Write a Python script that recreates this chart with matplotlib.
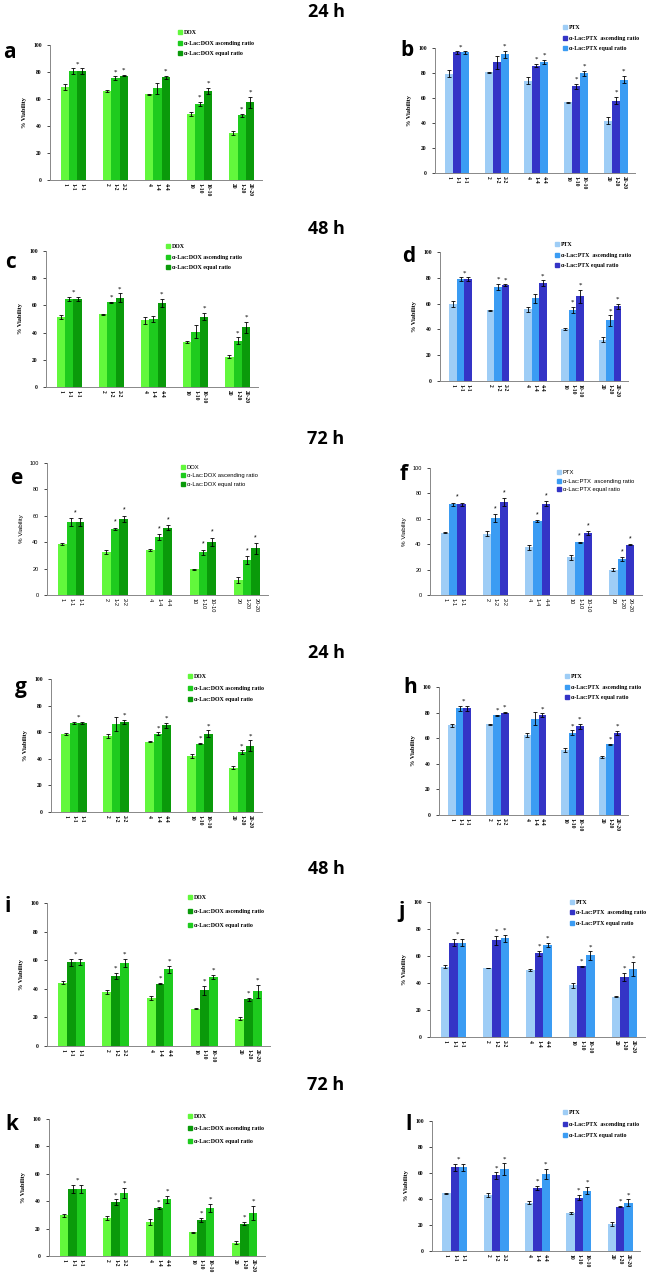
import numpy as np
import matplotlib
matplotlib.use("Agg")
from matplotlib import pyplot as plt
from matplotlib.patches import Patch

# 図の大きさ (px)
W, H = 647, 1275

# x 軸ラベル (各バーの下)
XLABELS = ["1", "1-1", "1-1", "2", "1-2", "2-2", "4", "1-4", "4-4",
           "10", "1-10", "10-10", "20", "1-20", "20-20"]

# 凡例
DOX_NAMES = ["DOX", "α-Lac:DOX ascending ratio", "α-Lac:DOX equal ratio"]
PTX_NAMES = ["PTX", "α-Lac:PTX  ascending ratio", "α-Lac:PTX equal ratio"]

# 色
G_LIGHT, G_MID, G_DARK = "#62f83c", "#1ecb1e", "#0a9a0a"
B_LIGHT, B_MID, B_DARK = "#9ecdf6", "#3b9cf3", "#3434c6"

# ---- データ (単剤, 昇順比, 等比, 誤差) ----
# スター: a=ascending, e=equal, m=両方の間
a_drug = [69.0, 66.0, 63.5, 49.0, 35.0]
a_asc = [80.7, 75.3, 68.0, 56.3, 48.0]
a_eq = [80.7, 77.3, 76.0, 66.0, 57.5]
a_err = [[2, 1, 0.3, 1.5, 1.5], [2, 1.5, 4, 1.5, 1], [2, 0.5, 1, 2.5, 4]]
a_stars = ["m", "ae", "e", "ae", "ae"]

b_drug = [79.5, 80.5, 74.0, 56.5, 42.0]
b_asc = [96.5, 88.5, 86.0, 69.3, 58.0]
b_eq = [96.5, 95.0, 89.0, 80.0, 74.7]
b_err = [[3, 0.3, 2.5, 0.5, 3], [1, 5, 1.5, 2, 3], [1, 3, 1.5, 2, 3]]
b_stars = ["m", "e", "ae", "ae", "ae"]

c_drug = [51.4, 53.6, 49.0, 33.0, 22.4]
c_asc = [64.9, 62.2, 50.0, 40.8, 34.0]
c_eq = [64.9, 65.8, 62.0, 51.8, 44.0]
c_err = [[1.5, 0.3, 2.5, 1, 1], [1.5, 0.5, 2.5, 5, 2.5], [1.5, 3, 3, 2.5, 4]]
c_stars = ["m", "ae", "e", "e", "ae"]

d_drug = [59.6, 54.7, 55.7, 40.4, 31.9]
d_asc = [79.0, 73.0, 64.2, 55.2, 47.0]
d_eq = [79.0, 74.4, 76.0, 65.8, 57.8]
d_err = [[2.5, 0.3, 2, 1, 2], [1.5, 2.5, 3.5, 2.5, 4], [1.5, 0.5, 2, 5, 2]]
d_stars = ["m", "ae", "e", "ae", "ae"]

e_drug = [38.7, 32.4, 34.0, 19.5, 11.4]
e_asc = [55.2, 49.9, 44.0, 32.4, 26.3]
e_eq = [55.2, 57.7, 51.0, 40.3, 35.4]
e_err = [[0.5, 1.5, 1, 0.3, 2], [3, 1, 2, 2, 3], [3, 2.5, 2, 3, 4]]
e_stars = ["m", "ae", "ae", "ae", "ae"]

f_drug = [49.0, 48.2, 37.6, 29.7, 20.0]
f_asc = [71.3, 60.8, 58.2, 41.6, 28.2]
f_eq = [71.3, 73.4, 71.8, 49.0, 39.7]
f_err = [[0.5, 2, 2, 2, 1], [1.5, 3, 0.5, 0.3, 1.5], [1.5, 3, 2, 1.5, 0.3]]
f_stars = ["m", "ae", "ae", "ae", "ae"]

g_drug = [58.6, 57.1, 52.9, 42.4, 33.3]
g_asc = [66.9, 66.2, 58.9, 51.4, 44.9]
g_eq = [66.9, 67.7, 65.2, 58.9, 49.9]
g_err = [[1, 1.5, 0.3, 1.5, 1], [1, 5, 1, 0.5, 1.5], [1, 1.5, 2, 2.5, 4]]
g_stars = ["m", "e", "ae", "ae", "ae"]

h_drug = [70.1, 70.9, 62.6, 50.9, 45.2]
h_asc = [83.4, 77.9, 75.3, 64.2, 55.3]
h_eq = [83.4, 80.0, 77.9, 69.4, 64.2]
h_err = [[1, 0.3, 1.5, 1.5, 1], [2, 0.5, 5, 2, 0.5], [2, 0.5, 1.5, 2, 1.5]]
h_stars = ["m", "ae", "e", "ae", "ae"]

i_drug = [44.3, 37.7, 33.7, 26.0, 19.0]
i_asc = [58.5, 49.2, 43.6, 38.9, 32.8]
i_eq = [58.5, 58.1, 53.6, 48.2, 38.4]
i_err = [[1, 1.5, 1.5, 0.3, 1], [2.5, 2, 0.5, 3, 1], [2, 3, 2.5, 1.5, 4.5]]
i_stars = ["m", "ae", "ae", "ae", "ae"]

j_drug = [52.1, 51.1, 49.6, 38.3, 30.0]
j_asc = [70.0, 71.5, 61.9, 52.3, 44.7]
j_eq = [70.0, 73.0, 68.0, 60.4, 50.4]
j_err = [[1, 0.3, 1, 2, 0.3], [2.5, 3.5, 2, 0.5, 3], [2.5, 2.5, 1.5, 3, 5]]
j_stars = ["m", "ae", "ae", "ae", "ae"]

k_drug = [29.6, 27.9, 24.7, 17.4, 9.8]
k_asc = [48.9, 39.4, 35.0, 26.4, 23.7]
k_eq = [48.9, 46.2, 41.3, 35.2, 31.5]
k_err = [[1, 1.5, 2, 0.3, 1], [3, 2, 1, 1.5, 1], [3, 3.5, 2.5, 3, 5]]
k_stars = ["m", "ae", "ae", "ae", "ae"]

l_drug = [44.5, 42.9, 37.3, 29.3, 21.1]
l_asc = [64.3, 58.1, 48.6, 41.1, 34.2]
l_eq = [64.3, 63.0, 59.1, 46.5, 37.3]
l_err = [[0.5, 1.5, 1, 0.5, 1.5], [3, 2.5, 1.5, 2, 0.5], [3, 4.5, 4, 3, 2.5]]
l_stars = ["m", "ae", "ae", "ae", "ae"]

fig = plt.figure(figsize=(W / 100, H / 100), dpi=100)


# パネル 1 枚を描く
# rect: 軸の (左, 上, 右, 下) px, leg: 凡例の (x, y) px と間隔
def drawPanel(rect, drug, asc, eq, err, stars, cols, names, leg, letter, let_xy, serif=True):
    x0, y0, x1, y1 = rect
    ax = fig.add_axes([x0 / W, 1 - y1 / H, (x1 - x0) / W, (y1 - y0) / H])
    fam = ["Liberation Serif"] if serif else ["Liberation Sans"]
    wt = "bold" if serif else "normal"
    w = 0.2
    g = np.arange(5)
    ek = dict(ecolor="black", elinewidth=0.6, capsize=1.3, capthick=0.6)
    ax.bar(g - w, drug, w, color=cols[0], yerr=err[0], error_kw=ek, zorder=2)
    ax.bar(g, asc, w, color=cols[1], yerr=err[1], error_kw=ek, zorder=2)
    ax.bar(g + w, eq, w, color=cols[2], yerr=err[2], error_kw=ek, zorder=2)
    # 有意差のスター
    for k, s in enumerate(stars):
        ta = asc[k] + err[1][k]
        te = eq[k] + err[2][k]
        if "m" in s:
            ax.text(k + w / 2, max(ta, te) + 1.5, "*", ha="center", va="bottom",
                    fontsize=5, family=fam)
        if "a" in s:
            ax.text(k, ta + 1.5, "*", ha="center", va="bottom", fontsize=5, family=fam)
        if "e" in s:
            ax.text(k + w, te + 1.5, "*", ha="center", va="bottom", fontsize=5, family=fam)
    ax.set_ylim(0, 100)
    ax.set_xlim(-0.55, 4.48)
    ax.set_yticks(np.arange(0, 101, 20))
    ax.set_yticklabels([str(v) for v in range(0, 101, 20)], fontsize=4,
                       family=fam, fontweight=wt)
    pos = np.concatenate([[k - w, k, k + w] for k in range(5)])
    ax.set_xticks(pos)
    ax.set_xticklabels(XLABELS, rotation=270, fontsize=4, family=fam, fontweight=wt)
    ax.tick_params(axis="x", length=0, pad=2)
    ax.tick_params(axis="y", length=2, width=0.5, pad=4)
    ax.set_ylabel("% Viability", fontsize=4.5, family=fam, fontweight=wt, labelpad=4)
    for sp in ["top", "right"]:
        ax.spines[sp].set_visible(False)
    for sp in ["left", "bottom"]:
        ax.spines[sp].set_color("#888888")
        ax.spines[sp].set_linewidth(0.7)
    # 凡例
    lx, ly, gap = leg
    hs = [Patch(color=c) for c in cols]
    ax.legend(hs, names, loc="upper left", bbox_to_anchor=(lx / W, 1 - ly / H),
              bbox_transform=fig.transFigure, frameon=False, handlelength=0.7,
              handleheight=0.7, handletextpad=0.3, labelspacing=gap, borderpad=0,
              borderaxespad=0, prop=dict(family=fam, weight=wt, size=4.2))
    # パネル記号
    fig.text(let_xy[0] / W, 1 - let_xy[1] / H, letter, fontsize=15, fontweight="bold",
             family="Open Sans", ha="left", va="center")
    return ax


GREEN1 = [G_LIGHT, G_MID, G_DARK]
GREEN2 = [G_LIGHT, G_DARK, G_MID]
BLUE1 = [B_LIGHT, B_DARK, B_MID]
BLUE2 = [B_LIGHT, B_MID, B_DARK]

drawPanel((50, 45, 262, 180), a_drug, a_asc, a_eq, a_err, a_stars, GREEN1, DOX_NAMES,
          (178, 30, 0.95), "a", (3, 52))
drawPanel((435, 48, 635, 173), b_drug, b_asc, b_eq, b_err, b_stars, BLUE1, PTX_NAMES,
          (563, 25, 0.95), "b", (400, 50))
drawPanel((46, 251, 258, 387), c_drug, c_asc, c_eq, c_err, c_stars, GREEN1, DOX_NAMES,
          (166, 244, 0.95), "c", (5, 262))
drawPanel((440, 252, 628, 381), d_drug, d_asc, d_eq, d_err, d_stars, BLUE2, PTX_NAMES,
          (555, 242, 0.95), "d", (402, 257))
drawPanel((47, 463, 268, 595), e_drug, e_asc, e_eq, e_err, e_stars, GREEN1, DOX_NAMES,
          (181, 465, 0.55), "e", (10, 478), serif=False)
drawPanel((430, 468, 642, 595), f_drug, f_asc, f_eq, f_err, f_stars, BLUE2, PTX_NAMES,
          (557, 470, 0.6), "f", (400, 475), serif=False)
drawPanel((51, 679, 262, 812), g_drug, g_asc, g_eq, g_err, g_stars, GREEN1, DOX_NAMES,
          (188, 674, 1.1), "g", (15, 688))
drawPanel((439, 687, 628, 815), h_drug, h_asc, h_eq, h_err, h_stars, BLUE2, PTX_NAMES,
          (565, 674, 0.95), "h", (403, 688))
drawPanel((47, 903, 270, 1046), i_drug, i_asc, i_eq, i_err, i_stars, GREEN2, DOX_NAMES,
          (188, 895, 1.5), "i", (5, 907))
drawPanel((430, 902, 645, 1037), j_drug, j_asc, j_eq, j_err, j_stars, BLUE1, PTX_NAMES,
          (570, 900, 0.9), "j", (398, 912))
drawPanel((49, 1119, 265, 1256), k_drug, k_asc, k_eq, k_err, k_stars, GREEN2, DOX_NAMES,
          (188, 1114, 1.25), "k", (5, 1125))
drawPanel((432, 1121, 640, 1251), l_drug, l_asc, l_eq, l_err, l_stars, BLUE1, PTX_NAMES,
          (563, 1110, 1.1), "l", (405, 1125))

# 時間の見出し
for txt, y in [("24 h", 12), ("48 h", 229), ("72 h", 439),
               ("24 h", 653), ("48 h", 869), ("72 h", 1085)]:
    fig.text(326 / W, 1 - y / H, txt, fontsize=13, fontweight="bold",
             family="Open Sans", ha="center", va="center")

fig.savefig("out.png", dpi=100, facecolor="white")
